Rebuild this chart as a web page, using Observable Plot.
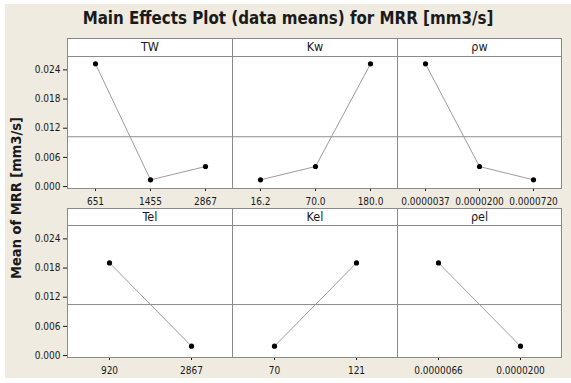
<!DOCTYPE html>
<html>
<head>
<meta charset="utf-8">
<script src="https://cdn.jsdelivr.net/npm/d3@7"></script>
<script src="https://cdn.jsdelivr.net/npm/@observablehq/plot@0.6"></script>
<style>
  html, body { margin: 0; padding: 0; background: #fff; }
  #chart { position: relative; width: 571px; height: 383px; background: #fff; overflow: hidden;
           font-family: "DejaVu Sans Condensed", "DejaVu Sans", sans-serif; color: #1a1a1a; }
  #bg { position: absolute; left: 5px; top: 4px; width: 566px; height: 374px; background: #efebe1; }
  #title { position: absolute; left: 5px; width: 566px; top: 7px; text-align: center;
           font-weight: bold; font-size: 16.8px; line-height: 22px; }
  #ytitle { position: absolute; left: 16px; top: 198px; transform: translate(-50%, -50%) rotate(-90deg);
            white-space: nowrap; font-weight: bold; font-size: 14.5px; }
  .strip { position: absolute; box-sizing: border-box; background: #fff; border: 1px solid #8a8a8a;
           text-align: center; font-size: 12.5px; line-height: 16px; }
  .panel { position: absolute; }
</style>
</head>
<body>
<div id="chart">
  <div id="bg"></div>
  <div id="title">Main Effects Plot (data means) for MRR [mm3/s]</div>
  <div id="ytitle">Mean of MRR [mm3/s]</div>
</div>
<script>
// Factor names, in panel order (row by row)
const factors = ["TW", "Kw", "ρw", "Tel", "Kel", "ρel"];

// Levels of each factor and the mean MRR at each level (mm3/s)
const twLevels = ["651", "1455", "2867"];
const twMeans = [0.02524, 0.00138, 0.00412];
const kwLevels = ["16.2", "70.0", "180.0"];
const kwMeans = [0.00138, 0.00412, 0.02524];
const rhowLevels = ["0.0000037", "0.0000200", "0.0000720"];
const rhowMeans = [0.02524, 0.00412, 0.00138];
const telLevels = ["920", "2867"];
const telMeans = [0.01906, 0.00192];
const kelLevels = ["70", "121"];
const kelMeans = [0.00192, 0.01906];
const rhoelLevels = ["0.0000066", "0.0000200"];
const rhoelMeans = [0.01906, 0.00192];

// Shared y axis
const yTicks = [0.000, 0.006, 0.012, 0.018, 0.024];
const yDomain = [-0.0004, 0.02675];

const panels = [
  {name: factors[0], levels: twLevels, means: twMeans},
  {name: factors[1], levels: kwLevels, means: kwMeans},
  {name: factors[2], levels: rhowLevels, means: rhowMeans},
  {name: factors[3], levels: telLevels, means: telMeans},
  {name: factors[4], levels: kelLevels, means: kelMeans},
  {name: factors[5], levels: rhoelLevels, means: rhoelMeans}
];

// Panel grid geometry
const colLeft = [67, 232, 397];
const colWidth = [165, 165, 164];
const rowStripTop = [38, 208];
const rowPlotTop = [56, 225];
const plotH = 132;

const chart = document.getElementById("chart");
const tickFont = '"DejaVu Sans Condensed", "DejaVu Sans", sans-serif';

panels.forEach((p, i) => {
  const row = Math.floor(i / 3), col = i % 3;
  const rows = p.levels.map((level, k) => ({level, mean: p.means[k]}));
  const grand = d3.mean(p.means);
  const mL = col === 0 ? 40 : 2, mR = 2, mT = 2, mB = 24;

  const svg = Plot.plot({
    width: mL + colWidth[col] + mR,
    height: mT + plotH + mB,
    marginLeft: mL, marginRight: mR, marginTop: mT, marginBottom: mB,
    style: {background: "transparent", fontFamily: tickFont, fontSize: "10px", color: "#1a1a1a", overflow: "visible"},
    x: {type: "point", domain: p.levels, padding: 0.5, label: null, tickSize: 3, tickPadding: 6},
    y: {domain: yDomain, ticks: yTicks, tickFormat: d3.format(".3f"), label: null,
        axis: col === 0 ? "left" : null, tickSize: 4, tickPadding: 3},
    marks: [
      Plot.frame({fill: "white", stroke: "#8a8a8a"}),
      Plot.ruleY([grand], {stroke: "#8c8c8c", strokeWidth: 1}),
      Plot.line(rows, {x: "level", y: "mean", stroke: "#9c9c9c", strokeWidth: 1}),
      Plot.dot(rows, {x: "level", y: "mean", fill: "black", r: 2.6})
    ]
  });
  svg.classList.add("panel");
  svg.style.left = (colLeft[col] - mL) + "px";
  svg.style.top = (rowPlotTop[row] - mT) + "px";
  chart.appendChild(svg);

  const strip = document.createElement("div");
  strip.className = "strip";
  strip.textContent = p.name;
  strip.style.left = colLeft[col] + "px";
  strip.style.top = rowStripTop[row] + "px";
  strip.style.width = (colWidth[col] + 1) + "px";
  strip.style.height = (rowPlotTop[row] - rowStripTop[row] + 1) + "px";
  chart.appendChild(strip);
});
</script>
</body>
</html>
